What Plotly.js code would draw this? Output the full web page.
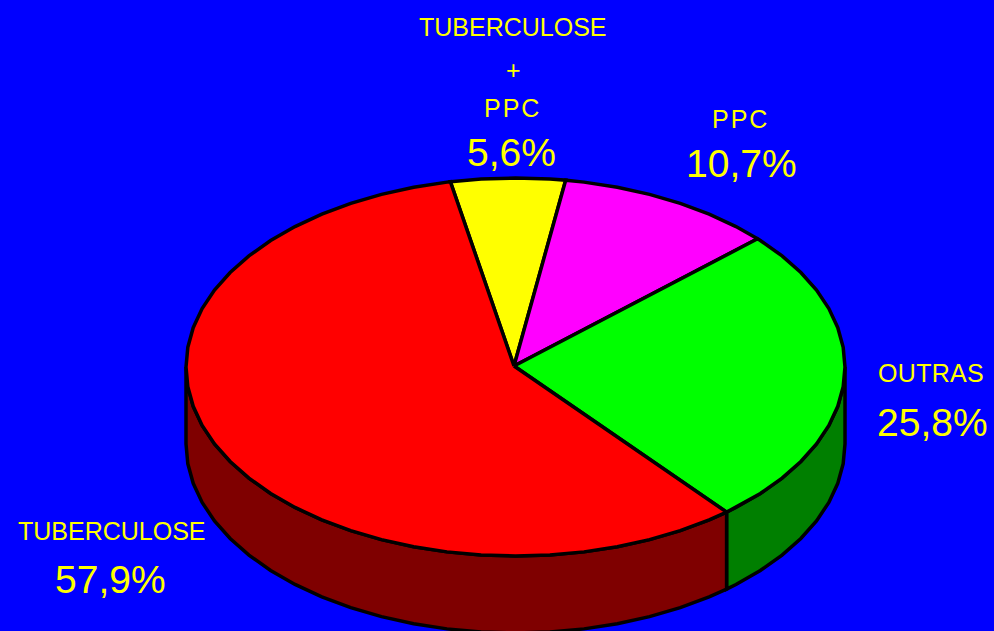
<!DOCTYPE html>
<html>
<head>
<meta charset="utf-8">
<script src="https://cdn.plot.ly/plotly-3.0.1.min.js"></script>
<style>html,body{margin:0;padding:0;background:#0000ff;overflow:hidden}#c{width:994px;height:631px}
.annotation[data-index="2"] text,.annotation[data-index="4"] text{letter-spacing:2px}
.annotation[data-index="6"] text{letter-spacing:.3px}
</style>
</head>
<body>
<div id="c"></div>
<script>
// Data, clockwise from the left edge of the yellow slice
const categories = ['TUBERCULOSE + PPC', 'PPC', 'OUTRAS', 'TUBERCULOSE'];
const values = [5.6, 10.7, 25.8, 57.9];
const valueLabels = ['5,6%', '10,7%', '25,8%', '57,9%'];
const topColors = ['#ffff00', '#ff00ff', '#00ff00', '#ff0000'];
const sideColors = ['#808000', '#800080', '#007f00', '#7f0000'];

// Ellipse geometry in page pixels
const cx = 515.5, cy = 367, rx = 329.5, ry = 189, depth = 77, apexX = 514, apexY = 366;
const startDeg = -11.4, stepDeg = 6;
const rad = d => d * Math.PI / 180;
const px = d => cx + rx * Math.sin(rad(d));
const py = (d, off) => cy - ry * Math.cos(rad(d)) + (off || 0);

function arc(a, b) {
  const out = [a];
  for (let d = Math.ceil(a / stepDeg) * stepDeg; d < b; d += stepDeg) if (d > a) out.push(d);
  out.push(b);
  return out;
}

let cum = 0;
const spans = values.map(v => { const a = startDeg + cum * 3.6; cum += v; return [a, startDeg + cum * 3.6]; });
const line = {color: '#000000', width: 3.5, shape: 'linear'};
const traces = [];

// Visible side wall: the front half of the rim, 90 to 270 degrees clockwise from the top
spans.forEach((s, i) => {
  const a = Math.max(s[0], 90), b = Math.min(s[1], 270);
  if (b <= a) return;
  const deg = arc(a, b);
  const rev = deg.slice().reverse();
  traces.push({type: 'scatter', mode: 'lines', fill: 'toself', fillcolor: sideColors[i], line,
    x: deg.map(d => px(d)).concat(rev.map(d => px(d)), [px(deg[0])]),
    y: deg.map(d => py(d)).concat(rev.map(d => py(d, depth)), [py(deg[0])]),
    hoverinfo: 'skip', showlegend: false});
});

// Top face
spans.forEach((s, i) => {
  const deg = arc(s[0], s[1]);
  traces.push({type: 'scatter', mode: 'lines', fill: 'toself', fillcolor: topColors[i], line,
    x: [apexX].concat(deg.map(d => px(d)), [apexX]),
    y: [apexY].concat(deg.map(d => py(d)), [apexY]),
    name: categories[i], hoverinfo: 'skip', showlegend: false});
});

const yellow = '#ffff00';
const font = size => ({family: '"Liberation Sans", Arial, sans-serif', size, color: yellow});
const label = (text, x, y, size) => ({text, x, y, xref: 'x', yref: 'y', showarrow: false,
  xanchor: 'center', yanchor: 'middle', font: font(size)});
const small = 25, big = 39;
const annotations = [
  label('TUBERCULOSE', 513, 27, small),
  label('+', 513, 70, small),
  label('PPC', 512.5, 108, small),
  label(valueLabels[0], 511, 152, big),
  label(categories[1], 740.5, 119, small),
  label(valueLabels[1], 741, 163, big),
  label(categories[2], 931, 373, small),
  label(valueLabels[2], 932, 422, big),
  label(categories[3], 112, 531, small),
  label(valueLabels[3], 110, 579, big)
];

Plotly.newPlot('c', traces, {
  width: 994, height: 631,
  margin: {l: 0, r: 0, t: 0, b: 0, pad: 0},
  paper_bgcolor: '#0000ff', plot_bgcolor: '#0000ff',
  showlegend: false,
  xaxis: {range: [0, 994], visible: false, fixedrange: true},
  yaxis: {range: [631, 0], visible: false, fixedrange: true},
  annotations
}, {displayModeBar: false, staticPlot: true});
</script>
</body>
</html>
